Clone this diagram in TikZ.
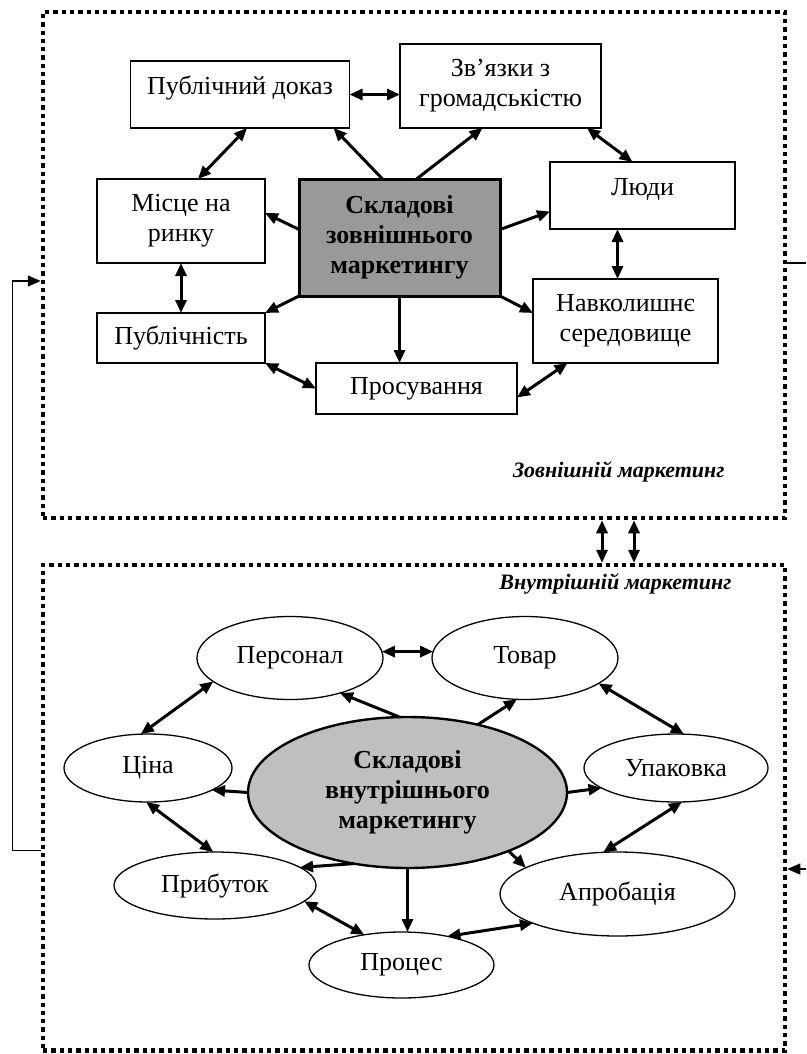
\documentclass[tikz,border=0pt]{standalone}
\usepackage{fontspec}
\setmainfont{Liberation Serif}
\usetikzlibrary{arrows.meta, calc, positioning, shapes.geometric}

\begin{document}
\begin{tikzpicture}[x=1pt, y=-1pt, >={Triangle[length=13pt, width=11pt]},
  font=\fontsize{26}{30}\selectfont,
  box/.style={draw, line width=1.3pt, fill=white, inner sep=0pt, outer sep=0pt, align=center},
  oval/.style={draw, ellipse, line width=1.3pt, fill=white, inner sep=0pt, outer sep=0pt, align=center},
  dotbox/.style={draw, line width=4.5pt, dash pattern=on 4.3pt off 4pt, inner sep=0pt},
  arrline/.style={line width=3pt},
  loopline/.style={line width=1.3pt},
  areatitle/.style={anchor=base east, font=\fontsize{22}{26}\selectfont\bfseries\itshape}]
  \useasboundingbox (0,0) rectangle (806,1054);

  % two areas
  \node[dotbox, minimum width=742pt, minimum height=506pt] (zovn) at (414,265) {};
  \node[dotbox, minimum width=742pt, minimum height=485.5pt] (vnut) at (414,807.75) {};
  \node[areatitle] (zlab) at (728,477) {Зовнішній маркетинг};
  \node[areatitle] (vlab) at (735,589) {Внутрішній маркетинг};

  % external marketing
  \node[box, minimum width=219pt, minimum height=67pt, text depth=18pt] (pd) at (240,94.5) {Публічний доказ};
  \node[box, minimum width=201pt, minimum height=84pt] (zv) at (500.5,86) {Зв’язки з\\громадськістю};
  \node[box, minimum width=185pt, minimum height=67pt, text depth=18pt] (ludy) at (642.5,195.5) {Люди};
  \node[box, minimum width=168pt, minimum height=84pt] (mr) at (181,221) {Місце на\\ринку};
  \node[box, line width=3pt, fill=black!40, minimum width=201pt, minimum height=117pt,
        font=\fontsize{26}{30}\selectfont\bfseries] (cz) at (399.5,237.5) {Складові\\зовнішнього\\маркетингу};
  \node[box, minimum width=185pt, minimum height=84pt] (nav) at (625.5,321) {Навколишнє\\середовище};
  \node[box, minimum width=168pt, minimum height=50pt] (pub) at (181,338) {Публічність};
  \node[box, minimum width=201pt, minimum height=51pt] (pros) at (416.5,388.5) {Просування};

  \draw[arrline, <->] (pd.east) -- (pd.east -| zv.west);
  \draw[arrline, <->] ([xshift=7pt]pd.south) -- ([xshift=17pt]mr.north);
  \draw[arrline, ->] ([xshift=-17pt]cz.north) -- ([xshift=-16pt]pd.south east);
  \draw[arrline, ->] ([xshift=17pt]cz.north) -- ([xshift=-18pt]zv.south);
  \draw[arrline, <->] ([xshift=-14pt]zv.south east) -- ([xshift=-10pt]ludy.north);
  \draw[arrline, ->] ([yshift=8pt]cz.west) -- ([yshift=8pt]mr.east);
  \draw[arrline, ->] ([yshift=8pt]cz.east) -- ([yshift=-16pt]ludy.west);
  \draw[arrline, <->] ([xshift=-25pt]ludy.south) -- ([xshift=-25pt]ludy.south |- nav.north);
  \draw[arrline, <->] (mr.south) -- (pub.north);
  \draw[arrline, ->] (cz.south west) -- (pub.north east);
  \draw[arrline, ->] (cz.south) -- (cz.south |- pros.north);
  \draw[arrline, ->] (cz.south east) -- ([yshift=8pt]nav.west);
  \draw[arrline, <->] (pub.south east) -- (pros.west);
  \draw[arrline, <->] ([xshift=-58pt]nav.south) -- ([yshift=-9pt]pros.east);

  % internal marketing
  \node[oval, minimum width=186pt, minimum height=83pt] (pers) at (290,658) {Персонал};
  \node[oval, minimum width=186pt, minimum height=83pt] (tov) at (525,658) {Товар};
  \node[oval, minimum width=168pt, minimum height=68pt] (cina) at (148,768) {Ціна};
  \node[oval, minimum width=184pt, minimum height=68pt] (upak) at (676,768) {Упаковка};
  \node[oval, line width=2.4pt, fill=black!25, minimum width=319pt, minimum height=151pt,
        font=\fontsize{26}{30}\selectfont\bfseries] (cv) at (407.5,792.5) {Складові\\внутрішнього\\маркетингу};
  \node[oval, minimum width=202pt, minimum height=67pt] (prib) at (215,885.5) {Прибуток};
  \node[oval, minimum width=235pt, minimum height=84pt] (aprob) at (617.5,894) {Апробація};
  \node[oval, minimum width=185pt, minimum height=66pt] (proc) at (401.5,965) {Процес};

  \draw[arrline, <->] (pers.4) -- (tov.176);
  \draw[arrline, <->] (pers.197) -- (cina.102);
  \draw[arrline, ->] (cv.96) -- (pers.-35);
  \draw[arrline, ->] (cv.44) -- (tov.259);
  \draw[arrline, <->] (tov.-19) -- (upak.77);
  \draw[arrline, ->] (cv.west) -- (cina.-19);
  \draw[arrline, ->] (cv.east) -- (upak.195);
  \draw[arrline, <->] (cina.267) -- (prib.93);
  \draw[arrline, <->] (upak.280) -- (aprob.109);
  \draw[arrline, ->] (cv.233) -- (prib.12);
  \draw[arrline, ->] (cv.-30) -- (aprob.164);
  \draw[arrline, ->] (cv.south) -- (cv.south |- proc.north);
  \draw[arrline, <->] (prib.-10) -- (proc.141);
  \draw[arrline, <->] (proc.32) -- (aprob.-161);

  % links between the areas
  \foreach \dx in {188, 220} {
    \draw[arrline, <->] ([xshift=\dx pt]zovn.south) -- ([xshift=\dx pt]vnut.north);
  }
  \coordinate (edgeT) at (806,263);
  \coordinate (edgeB) at (806,869);
  \draw[loopline, ->] ([yshift=-43pt]vnut.west) -- ++(-28,0) |- ([yshift=-16pt]zovn.west);
  \draw[loopline] (zovn.east |- edgeT) -- (edgeT);
  \draw[loopline, ->] (edgeB) -- (vnut.east |- edgeB);
\end{tikzpicture}
\end{document}
